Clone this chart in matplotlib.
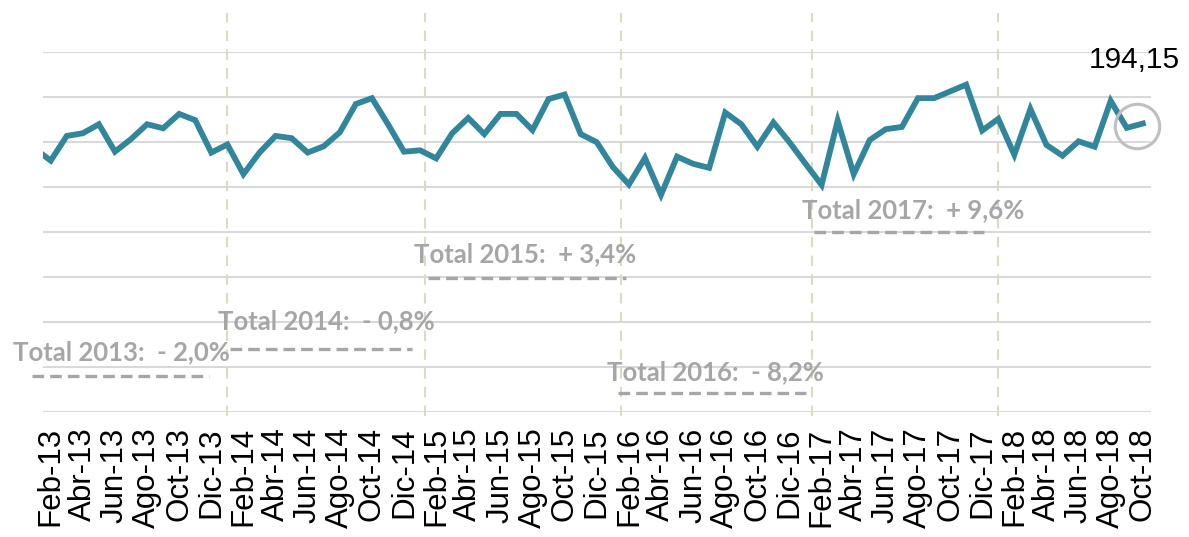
import matplotlib.pyplot as plt

# monthly series, Ene-13 .. Oct-18 (the Ene-13 point sits just left of the plot edge)
years = [13, 14, 15, 16, 17, 18]
months = ['Ene', 'Feb', 'Mar', 'Abr', 'May', 'Jun', 'Jul', 'Ago', 'Sep', 'Oct', 'Nov', 'Dic']
values = [
    188.6, 185.9, 191.4, 192.0, 194.0, 187.9, 190.7, 194.0, 193.1, 196.3, 194.9, 187.7,  # 2013
    189.5, 182.9, 187.7, 191.4, 190.9, 187.7, 189.1, 192.2, 198.5, 199.8, 194.0, 187.9,  # 2014
    188.2, 186.4, 192.0, 195.4, 191.8, 196.3, 196.3, 192.7, 199.6, 200.6, 191.8, 190.0,  # 2015
    184.5, 180.6, 186.5, 178.3, 186.8, 185.2, 184.3, 196.6, 194.0, 189.0, 194.4, 190.0,  # 2016
    185.2, 180.5, 194.8, 182.9, 190.5, 192.9, 193.4, 199.8, 199.8, 201.3, 202.8, 192.6,  # 2017
    195.2, 187.2, 197.4, 189.4, 187.0, 190.2, 189.0, 199.2, 193.2, 194.15,               # 2018
]
last_label = '194,15'

# year separators (month index, as drawn in the original)
year_breaks = [12, 24.3, 36.5, 48.4, 60]

# yearly totals: text, text anchor (left, centre), dashed underline
total_text = ['Total 2013:  - 2,0%', 'Total 2014:  - 0,8%', 'Total 2015:  + 3,4%',
              'Total 2016:  - 8,2%', 'Total 2017:  + 9,6%']
total_tx = [-1.35, 11.4, 23.65, 35.65, 47.8]
total_ty = [143.4, 150.3, 165.2, 138.8, 174.8]
line_x0 = [-0.15, 12.15, 24.5, 36.3, 48.5]
line_x1 = [10.85, 23.5, 36.8, 48.0, 59.1]
line_y = [137.9, 144.1, 159.9, 134.3, 170.1]

labels = [f'{m}-{y}' for y in years for m in months][:len(values)]
x = list(range(len(values)))

TEAL = '#31869C'
GRID = '#D9D9D9'
NOTE = '#A6A6A6'

fig = plt.figure(figsize=(11.89, 5.37), dpi=100)
ax = fig.add_axes([0.0359, 0.2328, 0.932, 0.6698])

ax.set_xlim(0.5, 69.5)
ax.set_ylim(130, 210)
ax.set_yticks(range(130, 211, 10))
ax.yaxis.grid(True, color=GRID, linewidth=1.5)
ax.set_axisbelow(True)
ax.tick_params(axis='y', length=0, labelleft=False)
for s in ax.spines.values():
    s.set_visible(False)

# year separators
for b in year_breaks:
    ax.axvline(b, ymin=-0.01, ymax=1.11, color='#DDD9C3', linewidth=1.5,
               linestyle=(0, (5, 4)), clip_on=False, zorder=1)

ax.plot(x, values, color=TEAL, linewidth=4.2, solid_joinstyle='miter', zorder=3)

# highlight last point
ax.plot(x[-1] - 0.35, values[-1] - 0.5, marker='o', markersize=32, markerfacecolor='none',
        markeredgecolor='#BFBFBF', markeredgewidth=2.2, clip_on=False, zorder=4)
ax.annotate(last_label, (x[-1], values[-1]), xytext=(-6, 46), textcoords='offset points',
            ha='center', va='center', fontsize=21.5, family='Liberation Sans', color='black')

# yearly totals
for t, tx, ty, x0, x1, ly in zip(total_text, total_tx, total_ty, line_x0, line_x1, line_y):
    ax.text(tx, ty, t, ha='left', va='center', fontsize=18.5, family='Lato',
            fontweight='bold', color=NOTE, zorder=5)
    ax.plot([x0, x1], [ly, ly], color=NOTE, linewidth=2.4, linestyle=(0, (3.5, 1.8)),
            clip_on=False, zorder=5)

ax.set_xticks(x[1::2])
ax.set_xticklabels(labels[1::2], rotation=90, fontsize=22.5, family='Liberation Sans')
ax.tick_params(axis='x', length=0, pad=11)

plt.savefig('out.png', dpi=100)
